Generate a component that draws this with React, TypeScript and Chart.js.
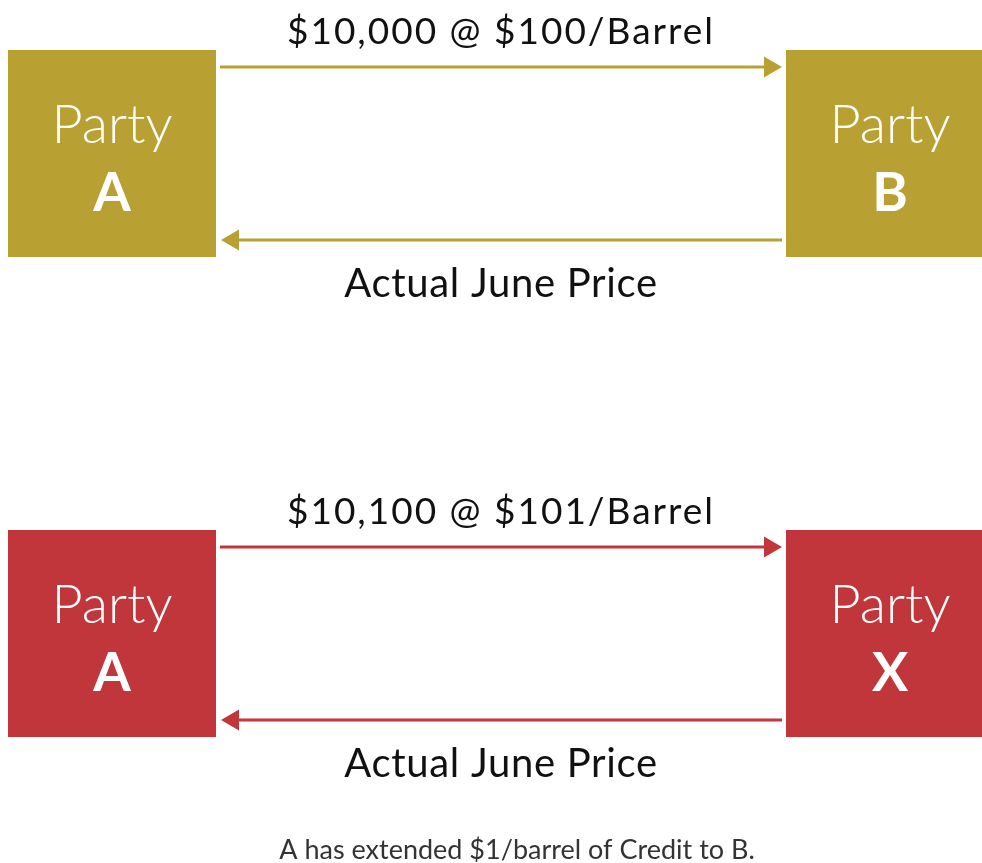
import React, { useEffect, useRef } from 'react';
import { Chart, registerables } from 'chart.js';
Chart.register(...registerables);

const W = 982;
const H = 863;

// content
const rowNames = ['credit', 'replacement'];
const leftParties = ['A', 'A'];
const rightParties = ['B', 'X'];
const forwardLabels = ['$10,000 @ $100/Barrel', '$10,100 @ $101/Barrel'];
const returnLabels = ['Actual June Price', 'Actual June Price'];
const rowColors = ['#B8A132', '#C1363A'];
const partyWord = 'Party';
const footnote = 'A has extended $1/barrel of Credit to B.';

// layout
const rowTop = [50, 530];
const boxH = 207;
const leftBox = [8, 216];
const rightBox = [786, 982];
const fwdOffset = 17;
const backOffset = 190;
const headR = 12;
const FONT = 'Lato, "Open Sans", sans-serif';

function buildDatasets() {
  const ds: any[] = [];
  rowNames.forEach((name, i) => {
    const yF = rowTop[i] + fwdOffset;
    const yB = rowTop[i] + backOffset;
    const tipF = rightBox[0] - 4;
    const tipB = leftBox[1] + 5;
    ds.push({
      label: name + ' forward',
      data: [{ x: leftBox[1] + 4, y: yF }, { x: tipF - headR, y: yF }],
      showLine: true,
      borderColor: rowColors[i],
      borderWidth: 3,
      pointRadius: [0, headR],
      pointStyle: 'triangle',
      pointRotation: 90,
      pointBackgroundColor: rowColors[i],
      pointBorderColor: rowColors[i],
      pointBorderWidth: 0,
    });
    ds.push({
      label: name + ' return',
      data: [{ x: rightBox[0] - 4, y: yB }, { x: tipB + headR, y: yB }],
      showLine: true,
      borderColor: rowColors[i],
      borderWidth: 3,
      pointRadius: [0, headR],
      pointStyle: 'triangle',
      pointRotation: -90,
      pointBackgroundColor: rowColors[i],
      pointBorderColor: rowColors[i],
      pointBorderWidth: 0,
    });
  });
  return ds;
}

const diagramPlugin = {
  id: 'diagram',
  beforeDatasetsDraw(chart: any) {
    const { ctx, scales } = chart;
    const xs = scales.x, ys = scales.y;
    ctx.save();
    rowNames.forEach((_, i) => {
      ctx.fillStyle = rowColors[i];
      [leftBox, rightBox].forEach((b) => {
        const x0 = xs.getPixelForValue(b[0]);
        const x1 = xs.getPixelForValue(b[1]);
        const y0 = ys.getPixelForValue(rowTop[i]);
        const y1 = ys.getPixelForValue(rowTop[i] + boxH);
        ctx.fillRect(x0, y0, x1 - x0, y1 - y0);
      });
    });
    ctx.restore();
  },
  afterDraw(chart: any) {
    const { ctx, scales } = chart;
    const xs = scales.x, ys = scales.y;
    ctx.save();
    ctx.textAlign = 'center';
    ctx.textBaseline = 'alphabetic';
    const midX = xs.getPixelForValue((leftBox[1] + rightBox[0]) / 2);
    rowNames.forEach((_, i) => {
      const top = rowTop[i];
      const boxes = [
        { b: leftBox, letter: leftParties[i] },
        { b: rightBox, letter: rightParties[i] },
      ];
      ctx.letterSpacing = '0px';
      boxes.forEach(({ b, letter }) => {
        const cx = xs.getPixelForValue(b[0] + 104);
        ctx.fillStyle = '#ffffff';
        ctx.font = `300 54px ${FONT}`;
        ctx.fillText(partyWord, cx, ys.getPixelForValue(top + 93));
        ctx.font = `700 54px ${FONT}`;
        ctx.fillText(letter, cx, ys.getPixelForValue(top + 161));
      });
      ctx.fillStyle = '#111111';
      ctx.font = `400 37px ${FONT}`;
      ctx.letterSpacing = '2px';
      ctx.fillText(forwardLabels[i], midX, ys.getPixelForValue(top - 6));
      ctx.font = `400 40px ${FONT}`;
      ctx.letterSpacing = '0.7px';
      ctx.fillText(returnLabels[i], midX, ys.getPixelForValue(top + 247));
    });
    ctx.fillStyle = '#333333';
    ctx.font = `400 27px ${FONT}`;
    ctx.letterSpacing = '0px';
    ctx.fillText(footnote, xs.getPixelForValue(517), ys.getPixelForValue(859));
    ctx.restore();
  },
};

export default function App() {
  const ref = useRef<HTMLCanvasElement | null>(null);
  useEffect(() => {
    if (!ref.current) return;
    const chart = new Chart(ref.current, {
      type: 'scatter',
      data: { datasets: buildDatasets() },
      options: {
        animation: false,
        responsive: false,
        devicePixelRatio: 1,
        events: [],
        layout: { padding: 0, autoPadding: false },
        plugins: { legend: { display: false }, tooltip: { enabled: false } },
        scales: {
          x: { type: 'linear', min: 0, max: W, display: false },
          y: { type: 'linear', min: 0, max: H, reverse: true, display: false },
        },
      },
      plugins: [diagramPlugin],
    });
    return () => chart.destroy();
  }, []);
  return (
    <div style={{ position: 'absolute', left: 0, top: 0, width: W, height: H, background: '#fff' }}>
      <canvas ref={ref} width={W} height={H} style={{ display: 'block' }} />
    </div>
  );
}
